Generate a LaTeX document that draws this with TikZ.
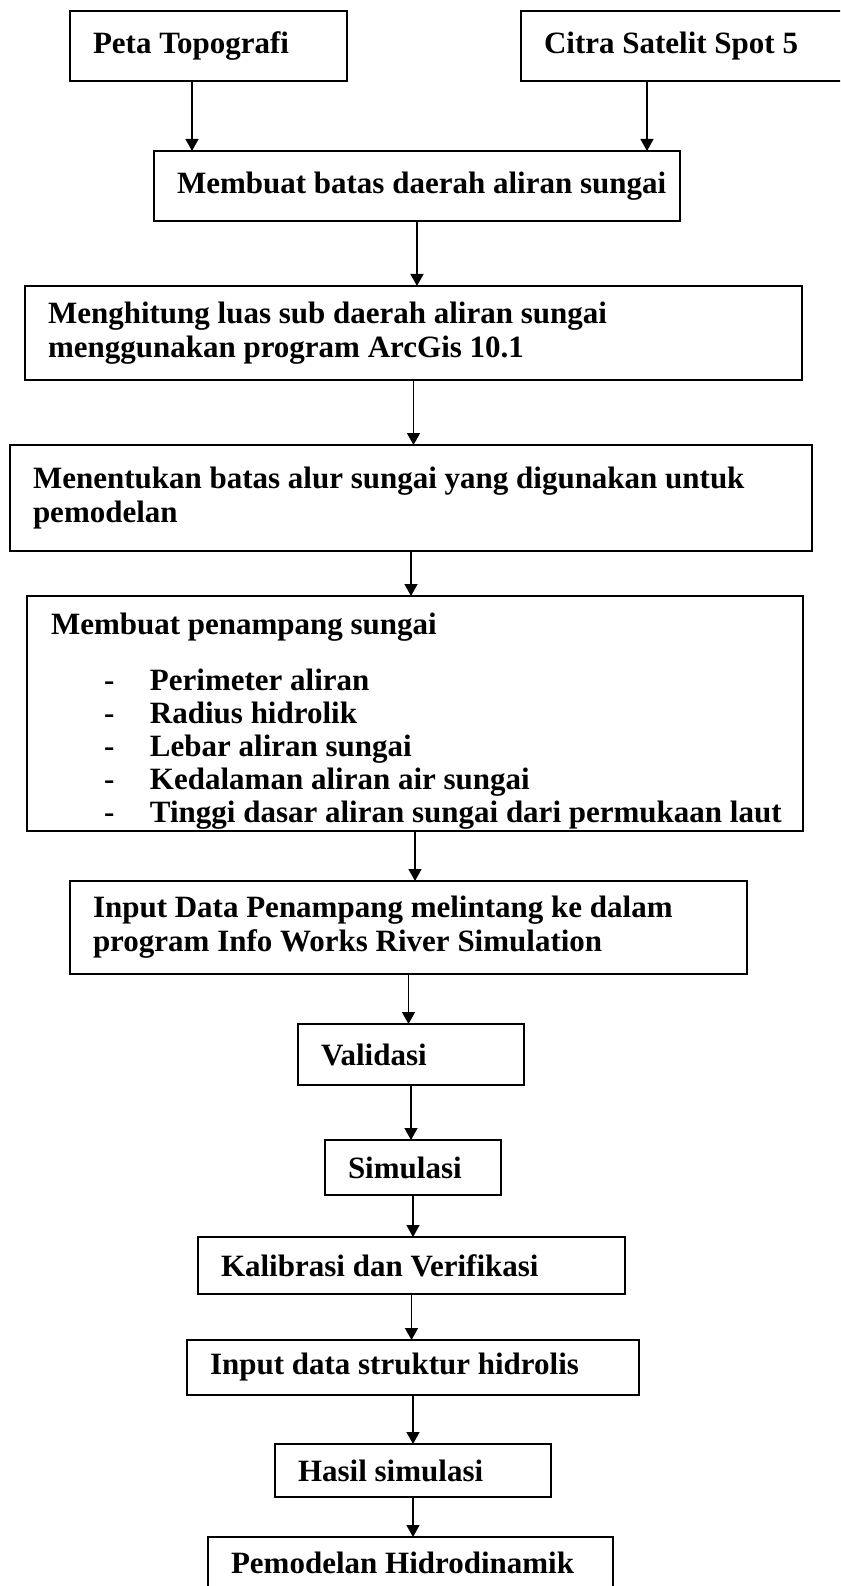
\documentclass[tikz,border=0pt]{standalone}
\usepackage{fontspec}
\setmainfont{Liberation Serif}
\usetikzlibrary{arrows.meta,positioning}

\begin{document}
\begin{tikzpicture}[
    x=1pt, y=-1pt,
    box/.style={
        draw,
        line width=1.6pt,
        inner xsep=23pt,
        inner ysep=3pt,
        outer sep=0pt,
        align=flush left,
        font=\fontsize{31}{34}\selectfont\bfseries
    },
    arrow/.style={-{Triangle[length=12pt, width=13pt]}, line width=1.4pt}
]
\useasboundingbox (0,0) rectangle (840,1586);
\clip (0,0) rectangle (840,1586);

\node[box, text width=231pt, minimum height=70pt, anchor=north west] (peta) at (70,11) {Peta Topografi};
\node[box, text width=294pt, minimum height=70pt, right=174pt of peta] (citra) {Citra Satelit Spot 5};
\node[box, text width=480pt, minimum height=70pt, below=70pt of peta, xshift=208.5pt] (batas) {\mbox{Membuat batas daerah aliran sungai}};
\node[box, text width=731pt, minimum height=94pt, below=65pt of batas, xshift=-3.5pt] (luas) {Menghitung luas sub daerah aliran sungai\\menggunakan program ArcGis 10.1};
\node[box, text width=756pt, minimum height=106pt, below=65pt of luas, xshift=-2.5pt] (alur) {Menentukan batas alur sungai yang digunakan untuk\\pemodelan};
\node[box, minimum width=776pt, minimum height=235pt, below=45pt of alur, xshift=4pt] (pen) {};

% isi kotak penampang, terpotong di tepi bawah
\begin{scope}
\clip (pen.south west) rectangle (pen.north east);
\node[box, draw=none, inner sep=0pt, font=\fontsize{31}{33}\selectfont\bfseries, anchor=north west] (penisi) at ([xshift=24pt, yshift=-17pt]pen.north west) {Membuat penampang sungai\\[22.5pt]
    \hspace*{53pt}\makebox[46pt][l]{-}Perimeter aliran\\
    \hspace*{53pt}\makebox[46pt][l]{-}Radius hidrolik\\
    \hspace*{53pt}\makebox[46pt][l]{-}Lebar aliran sungai\\
    \hspace*{53pt}\makebox[46pt][l]{-}Kedalaman aliran air sungai\\
    \hspace*{53pt}\makebox[46pt][l]{-}Tinggi dasar aliran sungai dari permukaan laut};
\end{scope}

\node[box, text width=631pt, minimum height=93pt, below=50pt of pen, xshift=-6.5pt] (input) {Input Data Penampang melintang ke dalam\\program Info Works River Simulation};
\node[box, text width=180pt, minimum height=61pt, below=50pt of input, xshift=2.5pt] (valid) {Validasi};
\node[box, text width=130pt, minimum height=55pt, below=55pt of valid, xshift=2pt] (simul) {Simulasi};
\node[box, text width=381pt, minimum height=57pt, below=42pt of simul, xshift=-1.5pt] (kalib) {Kalibrasi dan Verifikasi};
\node[box, text width=406pt, minimum height=55pt, below=46pt of kalib, xshift=1.5pt] (struk) {Input data struktur hidrolis};
\node[box, text width=230pt, minimum height=53pt, below=49pt of struk] (hasil) {Hasil simulasi};
\node[box, text width=359pt, minimum height=52pt, below=40pt of hasil, xshift=-2.5pt] (model) {\mbox{Pemodelan Hidrodinamik}};

\draw[arrow] ([xshift=-16.5pt]peta.south) -- ([xshift=-16.5pt]peta.south |- batas.north);
\draw[arrow] ([xshift=-44pt]citra.south) -- ([xshift=-44pt]citra.south |- batas.north);
\draw[arrow] (batas.south) -- (batas.south |- luas.north);
\draw[arrow] (luas.south) -- (luas.south |- alur.north);
\draw[arrow] (alur.south) -- (alur.south |- pen.north);
\draw[arrow] (pen.south) -- (pen.south |- input.north);
\draw[arrow] (input.south) -- (input.south |- valid.north);
\draw[arrow] (valid.south) -- (valid.south |- simul.north);
\draw[arrow] (simul.south) -- (simul.south |- kalib.north);
\draw[arrow] (kalib.south) -- (kalib.south |- struk.north);
\draw[arrow] (struk.south) -- (struk.south |- hasil.north);
\draw[arrow] (hasil.south) -- (hasil.south |- model.north);
\end{tikzpicture}
\end{document}
